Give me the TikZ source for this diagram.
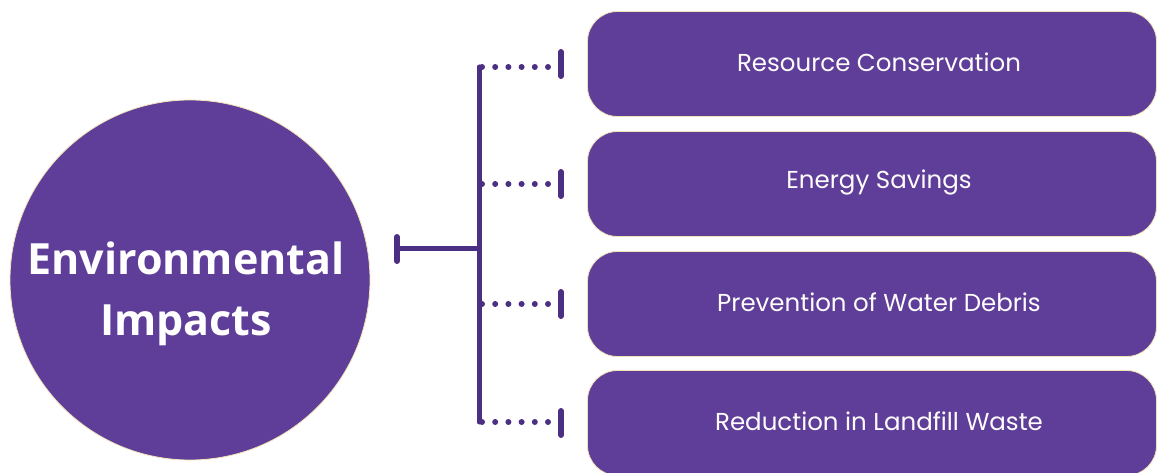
\documentclass[tikz,border=0pt]{standalone}
\usepackage{fontspec}
\newfontfamily\headfont{Open Sans}
\newfontfamily\itemfont{Poppins}
\usepackage{tikz}
\usetikzlibrary{calc}

\definecolor{impfill}{HTML}{5E3E98}
\definecolor{impline}{HTML}{4B2F82}
\definecolor{impedge}{HTML}{F2E2B8}

\begin{document}
\begin{tikzpicture}[x=1pt, y=-1pt, line cap=round]
        \useasboundingbox (0,0) rectangle (1163,473);

        % styles
        \tikzset{
            topic/.style={circle, fill=impfill, draw=impedge, line width=0.8pt, minimum size=360pt},
            topictext/.style={text=white, align=center, font=\headfont\bfseries\fontsize{43}{61}\selectfont},
            itembox/.style={rectangle, rounded corners=30pt, fill=impfill, draw=impedge, line width=0.8pt,
                minimum width=569pt, minimum height=105pt},
            itemtext/.style={text=white!95!impedge, font=\itemfont\fontsize{24.5}{28}\selectfont},
            trunk/.style={impline, line width=5pt},
            dots/.style={impline, line width=6pt, dash pattern=on 0pt off 13.2pt},
            endbar/.style={impline, line width=6pt}
        }

        % 중심 원
        \node[topic] (env) at (190, 280) {};
        \node[topictext] (envtxt) at (186, 294) {Environmental\\Impacts};

        % 오른쪽 상자
        \node[itembox] (b1) at (872, 64) {};
        \node[itembox] (b2) at (872, 184) {};
        \node[itembox] (b3) at (872, 304) {};
        \node[itembox] (b4) at (872, 423) {};
        \node[itemtext] (t1) at (879, 62) {Resource Conservation};
        \node[itemtext] (t2) at (879, 182) {Energy Savings};
        \node[itemtext] (t3) at (879, 302) {Prevention of Water Debris};
        \node[itemtext] (t4) at (879, 421) {Reduction in Landfill Waste};

        % 줄기 좌표
        \coordinate (tick) at (397, 249);
        \coordinate (hub) at (479, 249);
        \coordinate (top) at (479, 67);
        \coordinate (bot) at (479, 422);

        % 줄기
        \draw[endbar] ($(tick)+(0,-12)$) -- ($(tick)+(0,12)$);
        \draw[trunk] (tick) -- (hub);
        \draw[trunk] (top) -- (bot);

        % 점선 가지
        \draw[dots] (482, 67) -- (548, 67);
        \draw[dots] (482, 184) -- (548, 184);
        \draw[dots] (482, 304) -- (548, 304);
        \draw[dots] (482, 422) -- (548, 422);

        % 상자 앞 막대
        \draw[endbar] ($(b1.west)+(-26,-12)$) -- ($(b1.west)+(-26,12)$);
        \draw[endbar] ($(b2.west)+(-26,-12)$) -- ($(b2.west)+(-26,12)$);
        \draw[endbar] ($(b3.west)+(-26,-12)$) -- ($(b3.west)+(-26,12)$);
        \draw[endbar] ($(b4.west)+(-26,-12)$) -- ($(b4.west)+(-26,12)$);
    \end{tikzpicture}
\end{document}
